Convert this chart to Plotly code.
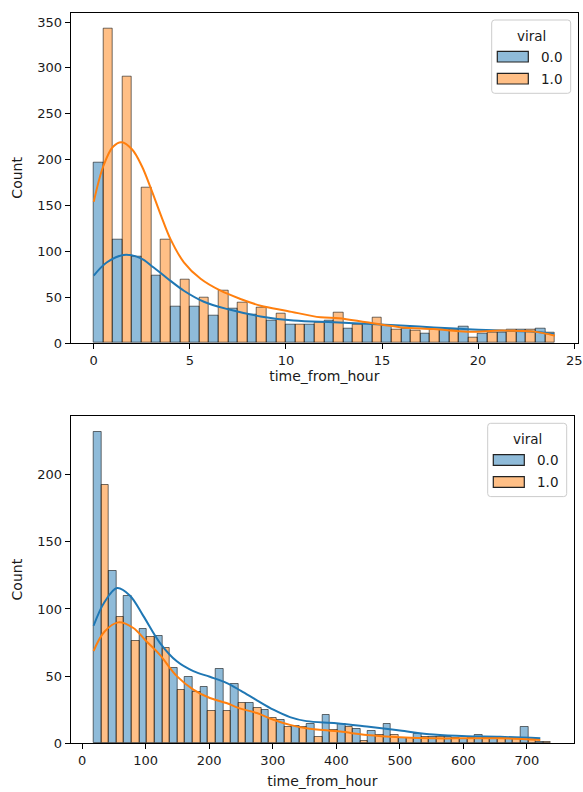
import plotly.graph_objects as go

W, H = 583, 792

# ---------------- data ----------------
hue_labels = ["0.0", "1.0"]
legend_title = "viral"
x_label = "time_from_hour"
y_label = "Count"

# top panel: 24 bins of width 1 starting at 0
top_bin_start = 0.0
top_bin_width = 1.0
top_counts_0 = [197, 113, 94, 73, 40, 40, 30, 37, 31, 24, 20, 20, 24, 16, 21, 19, 16, 10, 15, 18, 10, 11, 15, 16]
top_counts_1 = [343, 290, 169, 113, 69, 49, 57, 44, 38, 32, 20, 22, 33, 20, 28, 15, 13, 15, 15, 6, 11, 15, 15, 11]

top_kde0_x = [0, 0.69, 1.56, 2.43, 3.1, 3.82, 4.69, 5.73, 6.95, 8.68, 10.4, 12.5, 14.2, 15.97, 17.7, 19.45, 21.2, 22.9, 23.95]
top_kde0_y = [73.5, 88, 96, 92.5, 82.6, 70.6, 57, 45, 37, 29, 24.4, 22.6, 21, 19, 17, 15, 13.5, 12.4, 10]
top_kde1_x = [0, 0.5, 1.0, 1.45, 2.0, 2.5, 3.0, 3.5, 4.0, 4.69, 5.56, 6.6, 7.64, 8.68, 10.07, 11.8, 12.76, 14.2, 16, 17.7, 19.45, 21.2, 22.9, 24]
top_kde1_y = [154, 193, 214, 219, 211, 193, 167, 139, 113, 88, 70, 57, 48, 40.7, 35, 28, 27, 22.6, 17, 15.2, 12.4, 13.5, 12.4, 8]

top_xticks = [0, 5, 10, 15, 20, 25]
top_yticks = [0, 50, 100, 150, 200, 250, 300, 350]

# bottom panel: 30 bins of width 24 starting at 18
bot_bin_start = 18.0
bot_bin_width = 24.0
bot_counts_0 = [232, 128, 110, 85, 80, 56, 49, 42, 55, 44, 30, 25, 17, 13, 14, 21, 14, 11, 9, 14, 4, 7, 5, 5, 3, 6, 4, 3, 12, 1]
bot_counts_1 = [192, 94, 76, 79, 71, 40, 38, 24, 24, 30, 26, 19, 12, 12, 5, 10, 12, 2, 6, 6, 4, 5, 5, 4, 4, 4, 4, 4, 4, 1]

bot_kde0_x = [18, 35, 55, 75, 96, 122, 149, 175, 201, 227, 250, 275, 301, 327, 353, 400, 448, 500, 553, 605, 658, 721]
bot_kde0_y = [87.5, 105, 115.5, 110, 95, 75, 61, 53.7, 49.5, 45, 39, 32, 25, 19.5, 16.5, 15, 12.5, 9.5, 6.5, 5.2, 4.8, 3.7]
bot_kde1_x = [18, 35, 57, 80, 101, 122, 149, 175, 201, 227, 248, 275, 301, 327, 353, 406, 448, 500, 553, 605, 658, 721]
bot_kde1_y = [68.7, 83, 90, 86, 76, 66, 50, 40, 33.7, 30, 26, 22.5, 17.5, 13.7, 11.2, 8.7, 6.2, 4.5, 3.7, 3.7, 3.7, 2.5]

bot_xticks = [0, 100, 200, 300, 400, 500, 600, 700]
bot_yticks = [0, 50, 100, 150, 200]

# ---------------- styles ----------------
line_colors = ["#1f77b4", "#ff7f0e"]
fill_colors = ["rgba(31,119,180,0.5)", "rgba(255,127,14,0.5)"]
edge_color = "rgba(0,0,0,0.55)"
FONT = "DejaVu Sans"
TXT = "#1a1a1a"


def centers(start, width, n):
    return [start + width * (i + 0.5) for i in range(n)]


def add_panel(fig, xa, ya, start, width, counts, kdes):
    n = len(counts[0])
    xc = centers(start, width, n)
    for k in range(2):
        fig.add_trace(go.Bar(
            x=xc, y=counts[k], xaxis=xa, yaxis=ya, name=hue_labels[k],
            marker=dict(color=fill_colors[k], line=dict(color=edge_color, width=1)),
            showlegend=False, hoverinfo="x+y"))
    for k in range(2):
        kx, ky = kdes[k]
        fig.add_trace(go.Scatter(
            x=kx, y=ky, xaxis=xa, yaxis=ya, mode="lines",
            line=dict(color=line_colors[k], width=2, shape="spline", smoothing=1.0),
            showlegend=False, hoverinfo="skip"))


fig = go.Figure()
add_panel(fig, "x", "y", top_bin_start, top_bin_width, [top_counts_0, top_counts_1],
          [(top_kde0_x, top_kde0_y), (top_kde1_x, top_kde1_y)])
add_panel(fig, "x2", "y2", bot_bin_start, bot_bin_width, [bot_counts_0, bot_counts_1],
          [(bot_kde0_x, bot_kde0_y), (bot_kde1_x, bot_kde1_y)])

# axis geometry (pixels)
TOP = dict(l=70.7, r=578.0, t=12.7, b=343.0)
BOT = dict(l=70.7, r=574.0, t=416.0, b=743.3)


def xd(g):
    return [g["l"] / W, g["r"] / W]


def yd(g):
    return [1 - g["b"] / H, 1 - g["t"] / H]


axis_common = dict(showline=True, mirror=True, linecolor="black", linewidth=1,
                   ticks="outside", ticklen=5, tickwidth=1, tickcolor="black",
                   showgrid=False, zeroline=False, automargin=False,
                   tickfont=dict(family=FONT, size=13, color=TXT))

top_n = len(top_counts_0)
top_lo = top_bin_start
top_hi = top_bin_start + top_n * top_bin_width
top_pad = 0.05 * (top_hi - top_lo)
bot_n = len(bot_counts_0)
bot_lo = bot_bin_start
bot_hi = bot_bin_start + bot_n * bot_bin_width
bot_pad = 0.05 * (bot_hi - bot_lo)
top_ymax = 1.05 * max(max(top_counts_0), max(top_counts_1))
bot_ymax = 1.05 * max(max(bot_counts_0), max(bot_counts_1))

title_font = dict(family=FONT, size=14, color=TXT)

fig.update_layout(
    width=W, height=H, margin=dict(l=0, r=0, t=0, b=0),
    paper_bgcolor="white", plot_bgcolor="white",
    barmode="group", bargap=0, bargroupgap=0,
    showlegend=False,
    xaxis=dict(domain=xd(TOP), anchor="y", range=[top_lo - top_pad, top_hi + top_pad],
               tickvals=top_xticks, title=dict(text=x_label, font=title_font, standoff=3), **axis_common),
    yaxis=dict(domain=yd(TOP), anchor="x", range=[0, top_ymax],
               tickvals=top_yticks, title=dict(text=y_label, font=title_font, standoff=11), **axis_common),
    xaxis2=dict(domain=xd(BOT), anchor="y2", range=[bot_lo - bot_pad, bot_hi + bot_pad],
                tickvals=bot_xticks, title=dict(text=x_label, font=title_font, standoff=9), **axis_common),
    yaxis2=dict(domain=yd(BOT), anchor="x2", range=[0, bot_ymax],
                tickvals=bot_yticks, title=dict(text=y_label, font=title_font, standoff=11), **axis_common),
)


# ---------------- manual legends (seaborn-like) ----------------
def px(x):
    return x / W


def py(y):
    return 1 - y / H


def rounded_rect(x0, y0, x1, y1, r):
    rx, ry = r / W, r / H
    X0, X1 = px(x0), px(x1)
    Y0, Y1 = py(y0), py(y1)  # Y0 top, Y1 bottom (paper)
    return (f"M{X0 + rx},{Y0} L{X1 - rx},{Y0} Q{X1},{Y0} {X1},{Y0 - ry} "
            f"L{X1},{Y1 + ry} Q{X1},{Y1} {X1 - rx},{Y1} "
            f"L{X0 + rx},{Y1} Q{X0},{Y1} {X0},{Y1 + ry} "
            f"L{X0},{Y0 - ry} Q{X0},{Y0} {X0 + rx},{Y0} Z")


shapes = []
annotations = []
for g in (TOP, BOT):
    R, T = g["r"], g["t"]
    shapes.append(dict(type="path", xref="paper", yref="paper",
                       path=rounded_rect(R - 86.3, T + 7.3, R - 7.3, T + 80.6, 3),
                       fillcolor="rgba(255,255,255,0.8)", line=dict(color="#cccccc", width=1)))
    annotations.append(dict(x=px(R - 47), y=py(T + 23), xref="paper", yref="paper",
                            text=legend_title, showarrow=False, xanchor="center", yanchor="middle",
                            font=dict(family=FONT, size=13.5, color=TXT)))
    for k in range(2):
        yc = T + 44 + 22 * k
        shapes.append(dict(type="rect", xref="paper", yref="paper",
                           x0=px(R - 80.7), x1=px(R - 49.7), y0=py(yc - 5.3), y1=py(yc + 5.3),
                           fillcolor=fill_colors[k], line=dict(color="#222222", width=1.2)))
        annotations.append(dict(x=px(R - 39), y=py(yc), xref="paper", yref="paper",
                                text=hue_labels[k], showarrow=False, xanchor="left", yanchor="middle",
                                font=dict(family=FONT, size=13.5, color=TXT)))

fig.update_layout(shapes=shapes, annotations=annotations)

fig.write_html("out.html")
